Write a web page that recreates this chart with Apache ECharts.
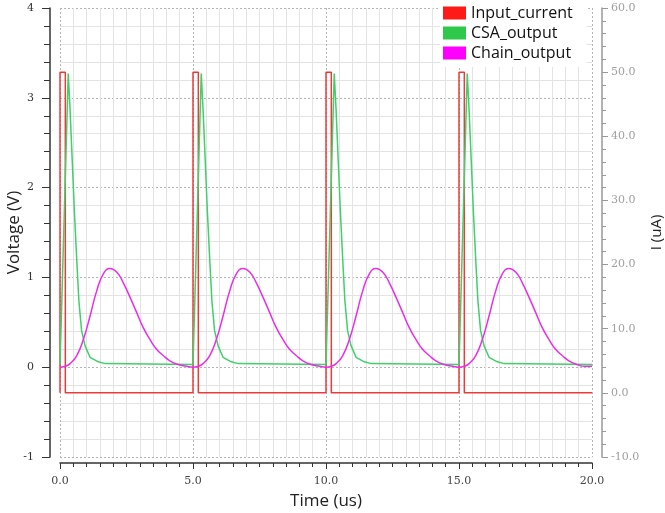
<!DOCTYPE html>
<html>
<head>
<meta charset="utf-8">
<script src="https://cdn.jsdelivr.net/npm/echarts@6/dist/echarts.min.js"></script>
<style>
  html, body { margin: 0; padding: 0; background: #fff; }
  #chart { width: 665px; height: 513px; }
</style>
</head>
<body>
<div id="chart"></div>
<script>
// time (us) and values
var inputT = [0, 0, 0.2, 0.2, 5.0, 5.0, 5.2, 5.2, 10.0, 10.0, 10.2, 10.2, 15.0, 15.0, 15.2, 15.2, 20.0];
var inputI = [0, 50, 50, 0, 0, 50, 50, 0, 0, 50, 50, 0, 0, 50, 50, 0, 0];

var csaT = [0, 0.31, 0.38, 0.46, 0.54, 0.63, 0.71, 0.81, 0.94, 1.13, 1.44, 1.7, 5.0,
            5.31, 5.38, 5.46, 5.54, 5.63, 5.71, 5.81, 5.94, 6.13, 6.44, 6.7, 10.0,
            10.31, 10.38, 10.46, 10.54, 10.63, 10.71, 10.81, 10.94, 11.13, 11.44, 11.7, 15.0,
            15.31, 15.38, 15.46, 15.54, 15.63, 15.71, 15.81, 15.94, 16.13, 16.44, 16.7, 20.0];
var csaV = [0.03, 3.27, 2.86, 2.30, 1.74, 1.19, 0.74, 0.41, 0.24, 0.11, 0.06, 0.04, 0.03,
            3.27, 2.86, 2.30, 1.74, 1.19, 0.74, 0.41, 0.24, 0.11, 0.06, 0.04, 0.03,
            3.27, 2.86, 2.30, 1.74, 1.19, 0.74, 0.41, 0.24, 0.11, 0.06, 0.04, 0.03,
            3.27, 2.86, 2.30, 1.74, 1.19, 0.74, 0.41, 0.24, 0.11, 0.06, 0.04, 0.03];

var chainT = [0, 0.2, 0.38, 0.63, 0.88, 1.13, 1.38, 1.63, 1.88, 2.13, 2.38, 2.63, 2.88, 3.13, 3.38, 3.63, 3.88, 4.13, 4.38, 4.76,
              5.0, 5.2, 5.38, 5.63, 5.88, 6.13, 6.38, 6.63, 6.88, 7.13, 7.38, 7.63, 7.88, 8.13, 8.38, 8.63, 8.88, 9.13, 9.38, 9.76,
              10.0, 10.2, 10.38, 10.63, 10.88, 11.13, 11.38, 11.63, 11.88, 12.13, 12.38, 12.63, 12.88, 13.13, 13.38, 13.63, 13.88, 14.13, 14.38, 14.76,
              15.0, 15.2, 15.38, 15.63, 15.88, 16.13, 16.38, 16.63, 16.88, 17.13, 17.38, 17.63, 17.88, 18.13, 18.38, 18.63, 18.88, 19.13, 19.38, 19.76, 20.0];
var chainV = [0.0, 0.01, 0.04, 0.13, 0.31, 0.57, 0.85, 1.04, 1.10, 1.06, 0.94, 0.78, 0.61, 0.44, 0.31, 0.20, 0.13, 0.07, 0.035, 0.01,
              0.0, 0.01, 0.04, 0.13, 0.31, 0.57, 0.85, 1.04, 1.10, 1.06, 0.94, 0.78, 0.61, 0.44, 0.31, 0.20, 0.13, 0.07, 0.035, 0.01,
              0.0, 0.01, 0.04, 0.13, 0.31, 0.57, 0.85, 1.04, 1.10, 1.06, 0.94, 0.78, 0.61, 0.44, 0.31, 0.20, 0.13, 0.07, 0.035, 0.01,
              0.0, 0.01, 0.04, 0.13, 0.31, 0.57, 0.85, 1.04, 1.10, 1.06, 0.94, 0.78, 0.61, 0.44, 0.31, 0.20, 0.13, 0.07, 0.035, 0.01, 0.01];

var seriesNames = ['Input_current', 'CSA_output', 'Chain_output'];
var legendColors = ['#ff1a1a', '#2ec84a', '#ff00ff'];
var lineColors = ['#ec3a3a', '#3fd06a', '#e82ee8'];

function zip(t, v) {
    return t.map(function (x, i) { return [x, v[i]]; });
}

var tickFont = 'DejaVu Serif';
var textFont = 'Open Sans';
var minorGrid = { show: true, lineStyle: { color: '#e3e3e3', width: 1 } };
var majorGrid = { show: true, lineStyle: { color: '#b4b4b4', width: 1, type: [2, 2] } };

var chart = echarts.init(document.getElementById('chart'), null, { renderer: 'canvas' });
chart.setOption({
    backgroundColor: '#ffffff',
    animation: false,
    grid: { left: 60, right: 73, top: 8, bottom: 56, containLabel: false, outerBoundsMode: 'none' },
    legend: {
        data: seriesNames.map(function (n, i) {
            return { name: n, itemStyle: { color: legendColors[i], borderColor: legendColors[i] } };
        }),
        orient: 'vertical',
        left: 440,
        top: 0,
        icon: 'rect',
        itemWidth: 23,
        itemHeight: 13,
        itemGap: 4,
        padding: [5, 14, 6, 3],
        backgroundColor: '#ffffff',
        textStyle: { fontFamily: textFont, fontSize: 16, color: '#111' }
    },
    xAxis: {
        type: 'value',
        min: 0, max: 20, interval: 5,
        offset: 6,
        name: 'Time (us)',
        nameLocation: 'middle',
        nameGap: 30,
        nameMoveOverlap: false,
        nameTextStyle: { fontFamily: textFont, fontSize: 17, color: '#222' },
        axisLine: { show: true, onZero: false, lineStyle: { color: '#333', width: 1.5 } },
        axisTick: { show: true, length: 6, lineStyle: { color: '#333' } },
        minorTick: { show: true, splitNumber: 10, length: 4, lineStyle: { color: '#333' } },
        axisLabel: {
            fontFamily: tickFont, fontSize: 11, color: '#444', margin: 13,
            formatter: function (v) { return v.toFixed(1); }
        },
        splitLine: majorGrid,
        minorSplitLine: minorGrid
    },
    yAxis: [{
        type: 'value',
        min: -1, max: 4, interval: 1,
        position: 'left',
        offset: 10,
        name: 'Voltage (V)',
        nameLocation: 'middle',
        nameRotate: 90,
        nameGap: 27,
        nameMoveOverlap: false,
        nameTextStyle: { fontFamily: textFont, fontSize: 17, color: '#222' },
        axisLine: { show: true, onZero: false, lineStyle: { color: '#333', width: 1.5 } },
        axisTick: { show: true, length: 8, lineStyle: { color: '#333' } },
        minorTick: { show: true, splitNumber: 5, length: 6, lineStyle: { color: '#333' } },
        axisLabel: { fontFamily: tickFont, fontSize: 11, color: '#333', margin: 16 },
        splitLine: majorGrid,
        minorSplitLine: minorGrid
    }, {
        type: 'value',
        min: -10, max: 60, interval: 10,
        position: 'right',
        offset: 10,
        name: 'I (uA)',
        nameLocation: 'middle',
        nameRotate: 90,
        nameGap: 47,
        nameMoveOverlap: false,
        nameTextStyle: { fontFamily: textFont, fontSize: 15, color: '#222' },
        axisLine: { show: true, onZero: false, lineStyle: { color: '#999', width: 1.5 } },
        axisTick: { show: true, length: 6, lineStyle: { color: '#999' } },
        minorTick: { show: true, splitNumber: 5, length: 4, lineStyle: { color: '#999' } },
        axisLabel: {
            fontFamily: tickFont, fontSize: 11, color: '#a0a0a0', margin: 9,
            formatter: function (v) { return v.toFixed(1); }
        },
        splitLine: { show: false },
        minorSplitLine: { show: false }
    }],
    series: [{
        name: seriesNames[0],
        type: 'line',
        yAxisIndex: 1,
        data: zip(inputT, inputI),
        showSymbol: false,
        color: legendColors[0],
        lineStyle: { color: lineColors[0], width: 1.5 },
        z: 2
    }, {
        name: seriesNames[1],
        type: 'line',
        yAxisIndex: 0,
        data: zip(csaT, csaV),
        showSymbol: false,
        color: legendColors[1],
        lineStyle: { color: lineColors[1], width: 1.5 },
        z: 3
    }, {
        name: seriesNames[2],
        type: 'line',
        yAxisIndex: 0,
        data: zip(chainT, chainV),
        showSymbol: false,
        smooth: 0.5,
        color: legendColors[2],
        lineStyle: { color: lineColors[2], width: 1.5 },
        z: 4
    }]
});
</script>
</body>
</html>
